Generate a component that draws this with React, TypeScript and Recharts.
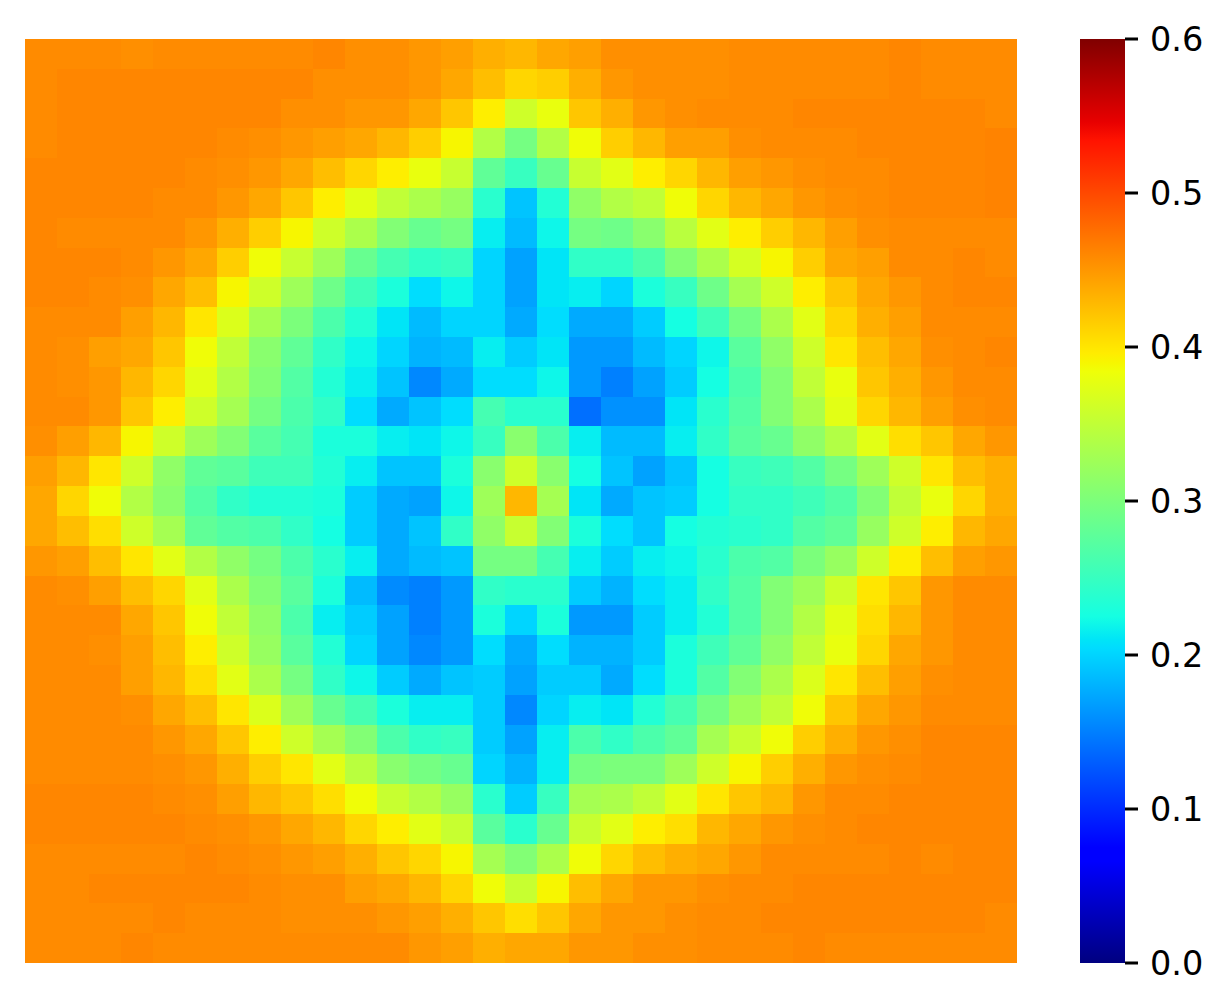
import { Bar, BarChart, Scatter, ScatterChart, XAxis, YAxis } from "recharts";

// values, one list per heatmap row (top to bottom)
const heatRows: number[][] = [
  [.458,.458,.458,.455,.458,.458,.458,.458,.458,.461,.455,.455,.45,.445,.435,.43,.44,.445,.455,.455,.455,.455,.458,.458,.458,.458,.458,.461,.458,.458,.458],
  [.458,.461,.461,.461,.461,.461,.461,.461,.461,.455,.455,.455,.45,.44,.425,.41,.415,.435,.45,.455,.455,.455,.458,.458,.458,.458,.458,.461,.458,.458,.458],
  [.458,.461,.461,.461,.461,.461,.461,.461,.455,.455,.45,.45,.44,.42,.395,.36,.38,.42,.435,.45,.455,.458,.458,.458,.461,.461,.461,.461,.461,.461,.458],
  [.458,.461,.461,.461,.461,.461,.458,.455,.45,.445,.44,.43,.415,.39,.34,.295,.34,.385,.415,.43,.445,.445,.455,.458,.458,.458,.461,.461,.461,.461,.463],
  [.461,.461,.461,.461,.461,.458,.455,.45,.44,.425,.41,.395,.38,.355,.28,.25,.285,.355,.375,.395,.41,.43,.445,.45,.455,.458,.458,.461,.461,.461,.463],
  [.461,.461,.461,.461,.458,.458,.45,.44,.42,.395,.375,.35,.335,.32,.24,.19,.235,.315,.34,.35,.385,.41,.43,.44,.45,.455,.458,.461,.461,.461,.463],
  [.461,.458,.458,.458,.458,.45,.435,.415,.39,.36,.335,.305,.285,.295,.215,.185,.22,.295,.29,.31,.345,.375,.395,.415,.43,.445,.455,.458,.458,.458,.458],
  [.461,.461,.461,.458,.45,.44,.415,.385,.355,.325,.285,.26,.245,.25,.2,.17,.21,.245,.245,.265,.305,.335,.365,.39,.415,.44,.445,.458,.458,.461,.458],
  [.461,.461,.458,.455,.44,.425,.39,.36,.325,.29,.255,.23,.205,.22,.2,.17,.21,.215,.2,.23,.25,.29,.33,.36,.395,.42,.44,.45,.458,.461,.461],
  [.458,.458,.458,.445,.43,.4,.37,.33,.3,.265,.235,.21,.185,.2,.2,.175,.205,.175,.175,.195,.225,.255,.295,.335,.375,.41,.435,.445,.458,.458,.458],
  [.458,.455,.445,.44,.42,.385,.35,.31,.28,.245,.22,.2,.18,.185,.215,.195,.21,.165,.165,.185,.2,.22,.275,.315,.36,.4,.425,.44,.455,.458,.461],
  [.458,.455,.45,.43,.41,.375,.34,.305,.27,.235,.215,.19,.155,.175,.205,.205,.22,.165,.15,.17,.195,.225,.265,.305,.35,.38,.42,.435,.45,.458,.458],
  [.458,.458,.45,.42,.395,.36,.33,.295,.265,.245,.205,.175,.19,.205,.26,.24,.24,.14,.16,.16,.21,.24,.27,.305,.335,.375,.41,.43,.445,.455,.458],
  [.455,.445,.43,.39,.36,.325,.305,.275,.26,.23,.23,.215,.21,.22,.25,.31,.265,.215,.185,.185,.215,.245,.275,.285,.315,.34,.375,.405,.42,.44,.45],
  [.445,.43,.4,.36,.315,.28,.275,.255,.255,.235,.215,.19,.19,.23,.31,.36,.31,.225,.19,.17,.19,.225,.25,.255,.27,.295,.325,.36,.4,.425,.435],
  [.44,.41,.385,.34,.31,.27,.245,.235,.235,.23,.195,.175,.17,.22,.325,.43,.33,.21,.175,.19,.195,.225,.245,.245,.255,.27,.305,.35,.38,.41,.435],
  [.44,.425,.405,.36,.33,.28,.27,.265,.245,.225,.195,.175,.19,.245,.315,.355,.305,.23,.205,.19,.225,.235,.24,.245,.27,.28,.32,.36,.395,.43,.44],
  [.45,.445,.425,.4,.375,.34,.315,.295,.265,.24,.215,.175,.185,.19,.295,.295,.26,.215,.195,.215,.22,.24,.265,.27,.3,.32,.36,.395,.425,.445,.45],
  [.458,.455,.445,.425,.41,.375,.335,.305,.275,.23,.185,.157,.15,.165,.245,.24,.24,.195,.18,.205,.215,.245,.27,.305,.325,.36,.4,.42,.45,.458,.458],
  [.458,.458,.458,.44,.42,.385,.35,.315,.265,.215,.195,.17,.15,.165,.23,.2,.23,.165,.165,.195,.215,.235,.27,.305,.34,.375,.405,.43,.45,.458,.458],
  [.458,.458,.455,.445,.425,.395,.36,.32,.275,.235,.2,.17,.155,.165,.205,.175,.205,.18,.18,.195,.23,.255,.28,.315,.35,.38,.41,.44,.45,.458,.458],
  [.458,.458,.458,.445,.43,.405,.375,.335,.295,.245,.22,.195,.175,.19,.195,.17,.195,.195,.175,.205,.23,.27,.305,.335,.37,.4,.425,.445,.455,.458,.458],
  [.458,.458,.458,.455,.44,.425,.4,.37,.325,.285,.26,.23,.215,.215,.195,.155,.2,.215,.21,.235,.26,.295,.325,.35,.385,.42,.44,.45,.458,.458,.458],
  [.458,.458,.458,.458,.45,.44,.42,.395,.36,.33,.305,.265,.245,.25,.195,.17,.215,.265,.245,.265,.28,.33,.355,.385,.415,.435,.45,.455,.461,.461,.461],
  [.458,.458,.458,.458,.455,.45,.435,.415,.4,.375,.345,.31,.295,.285,.2,.18,.215,.295,.3,.3,.325,.36,.39,.415,.435,.45,.455,.458,.461,.461,.461],
  [.461,.461,.461,.461,.458,.455,.445,.43,.42,.405,.385,.355,.34,.32,.24,.195,.25,.33,.335,.35,.375,.4,.42,.43,.45,.458,.458,.461,.461,.461,.461],
  [.461,.461,.461,.461,.461,.458,.455,.45,.44,.43,.41,.395,.375,.355,.275,.24,.285,.355,.375,.395,.405,.43,.44,.45,.455,.458,.461,.461,.461,.461,.461],
  [.458,.458,.458,.458,.458,.461,.458,.455,.45,.445,.435,.42,.41,.39,.33,.305,.335,.385,.41,.425,.435,.44,.45,.458,.458,.458,.458,.461,.458,.461,.461],
  [.458,.458,.461,.461,.461,.461,.461,.458,.455,.455,.445,.44,.43,.41,.385,.355,.39,.425,.44,.45,.45,.455,.458,.458,.461,.461,.461,.461,.461,.461,.461],
  [.458,.458,.458,.458,.461,.458,.458,.458,.455,.455,.455,.45,.445,.435,.42,.405,.42,.44,.45,.45,.455,.458,.458,.461,.461,.461,.461,.461,.461,.461,.458],
  [.458,.458,.458,.461,.458,.458,.458,.458,.458,.458,.458,.458,.45,.445,.435,.44,.44,.45,.45,.455,.455,.458,.458,.458,.461,.458,.458,.458,.458,.458,.458],
];

const colorTicks = [0, 0.1, 0.2, 0.3, 0.4, 0.5, 0.6];
const colorMax = 0.6;

// matplotlib jet segments
const JET_R = [[0, 0], [0.35, 0], [0.66, 1], [0.89, 1], [1, 0.5]];
const JET_G = [[0, 0], [0.125, 0], [0.375, 1], [0.64, 1], [0.91, 0], [1, 0]];
const JET_B = [[0, 0.5], [0.11, 1], [0.34, 1], [0.65, 0], [1, 0]];
const JET_STOPS = [0, 0.11, 0.125, 0.34, 0.35, 0.375, 0.64, 0.65, 0.66, 0.89, 0.91, 1];

function channel(seg: number[][], t: number) {
  for (let i = 1; i < seg.length; i++) {
    if (t <= seg[i][0]) {
      const [x0, y0] = seg[i - 1];
      const [x1, y1] = seg[i];
      return y0 + ((t - x0) / (x1 - x0)) * (y1 - y0);
    }
  }
  return seg[seg.length - 1][1];
}

function jet(t: number) {
  const r = Math.round(channel(JET_R, t) * 255);
  const g = Math.round(channel(JET_G, t) * 255);
  const b = Math.round(channel(JET_B, t) * 255);
  return `rgb(${r},${g},${b})`;
}

const COLS = heatRows[0].length;
const ROWS = heatRows.length;
const MAP_W = 992;
const MAP_H = 924;
const CELL_W = MAP_W / COLS;
const CELL_H = MAP_H / ROWS;

const cells = heatRows.flatMap((row, r) =>
  row.map((value, c) => ({ x: c + 0.5, y: r + 0.5, value }))
);

const barData = [{ name: "scale", value: colorMax }];

function HeatCell(props: any) {
  const { cx, cy, payload } = props;
  return (
    <rect
      x={cx - CELL_W / 2}
      y={cy - CELL_H / 2}
      width={CELL_W}
      height={CELL_H}
      fill={jet(payload.value / colorMax)}
      shapeRendering="crispEdges"
    />
  );
}

export default function App() {
  return (
    <div style={{ position: "absolute", left: 0, top: 0, width: 1229, height: 1008, background: "#fff" }}>
      <div style={{ position: "absolute", left: 25, top: 39 }}>
        <ScatterChart width={MAP_W} height={MAP_H} margin={{ top: 0, right: 0, bottom: 0, left: 0 }}>
          <XAxis type="number" dataKey="x" domain={[0, COLS]} hide />
          <YAxis type="number" dataKey="y" domain={[0, ROWS]} reversed hide />
          <Scatter data={cells} shape={HeatCell} isAnimationActive={false} />
        </ScatterChart>
      </div>
      <div style={{ position: "absolute", left: 1080, top: 9 }}>
        <BarChart
          width={149}
          height={984}
          data={barData}
          barCategoryGap={0}
          margin={{ top: 30, right: 0, bottom: 30, left: 0 }}
        >
          <defs>
            <linearGradient id="jetBar" x1="0" y1="1" x2="0" y2="0">
              {JET_STOPS.map((t) => (
                <stop key={t} offset={t} stopColor={jet(t)} />
              ))}
            </linearGradient>
          </defs>
          <XAxis dataKey="name" hide />
          <YAxis
            orientation="right"
            type="number"
            domain={[0, colorMax]}
            ticks={colorTicks}
            width={104}
            axisLine={false}
            interval={0}
            tickSize={13}
            tickMargin={12}
            tickFormatter={(v: number) => v.toFixed(1)}
            tickLine={{ stroke: "#000", strokeWidth: 3 }}
            tick={{ fill: "#000", fontSize: 33.5, fontFamily: "DejaVu Sans" }}
          />
          <Bar dataKey="value" fill="url(#jetBar)" isAnimationActive={false} />
        </BarChart>
      </div>
    </div>
  );
}
